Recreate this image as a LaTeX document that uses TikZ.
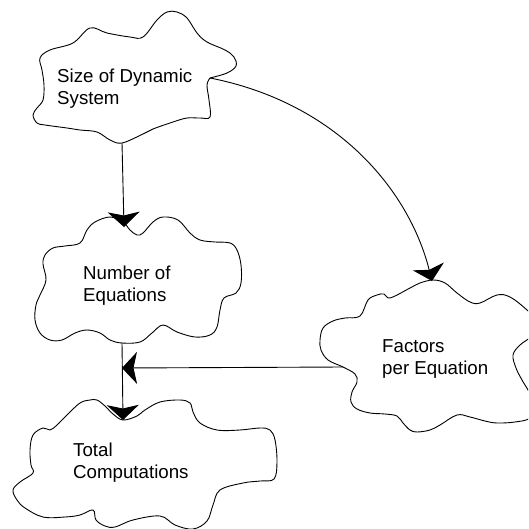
\documentclass[tikz,border=0pt]{standalone}
\usepackage{fontspec}
\setmainfont{Liberation Sans}
\usetikzlibrary{arrows.meta}
\begin{document}
\begin{tikzpicture}[x=1pt,y=-1pt,
  cloudline/.style={draw=black,line width=0.9pt,line join=round},
  link/.style={draw=black,line width=0.9pt,-{Stealth[length=15pt,width=32pt,inset=3.5pt]}},
  label/.style={anchor=base west,align=left,inner sep=0pt,font=\fontsize{18.7}{22}\selectfont}]
\clip (0,0) rectangle (528,529);
\useasboundingbox (0,0) rectangle (528,529);

% cloud: Size of Dynamic System
\path[cloudline] plot[smooth,tension=0.6] coordinates {
  (210,78) (227,73) (236,66) (234,57) (225,50) (207,42) (197,33) (187,18)
  (177,12) (167,12) (157,20) (143,37) (130,37) (107,33) (90,28) (73,43)
  (50,50) (40,58) (42,70) (44,85) (43,100) (37,108) (33,115) (37,123)
  (45,125) (67,128) (80,130) (97,132) (110,140) (122,143) (143,134)
  (153,129) (173,122) (187,118) (200,118) (210,117) (209,100) (207,85) (210,78)};

% cloud: Number of Equations
\path[cloudline] plot[smooth cycle,tension=0.6] coordinates {
  (110,217) (95,222) (87,230) (80,243) (65,246) (53,248) (45,255) (43,264)
  (46,280) (40,295) (36,305) (35,320) (40,333) (50,340) (62,340) (75,333)
  (87,330) (100,333) (110,340) (122,343) (140,342) (152,333) (163,325)
  (177,332) (195,337) (210,335) (217,327) (220,310) (224,298) (236,293)
  (241,283) (241,265) (237,250) (230,243) (215,242) (200,240) (190,233)
  (178,220) (163,217) (153,222) (143,233) (137,235) (130,230) (123,222)};

% cloud: Total Computations
\path[cloudline] plot[smooth cycle,tension=0.6] coordinates {
  (90,400) (80,403) (67,415) (57,425) (50,430) (43,428) (33,435) (30,450)
  (31,465) (33,473) (20,482) (13,490) (17,500) (25,508) (43,517) (65,517)
  (80,515) (93,510) (96,520) (105,526) (115,527) (133,520) (160,516)
  (175,525) (193,529) (207,521) (213,505) (220,490) (243,483) (260,481)
  (274,479) (277,462) (275,440) (270,430) (260,428) (240,430) (217,430)
  (200,423) (193,412) (190,403) (180,400) (160,402) (145,410) (137,416)
  (123,420) (113,414) (105,406) (97,400)};

% cloud: Factors per Equation (runs past the right edge)
\path[cloudline] plot[smooth cycle,tension=0.6] coordinates {
  (433,280) (420,283) (410,288) (395,296) (388,298) (384,294) (377,295)
  (368,300) (360,316) (345,318) (333,321) (323,328) (320,340) (321,350)
  (328,360) (343,367) (355,374) (357,382) (352,392) (351,402) (357,409)
  (370,413) (385,414) (397,416) (403,423) (410,430) (417,432) (430,430)
  (440,425) (457,415) (470,417) (485,421) (497,423) (515,422) (530,418)
  (536,405) (528,390) (522,380) (516,368) (513,355) (520,345) (532,336)
  (540,324) (527,310) (510,297) (497,295) (480,303) (470,302) (457,293)
  (445,283)};

% labels (anchored on the baseline of the last line)
\node[label] (size) at (57,105) {Size of Dynamic\\System};
\node[label] (number) at (83,301) {Number of\\Equations};
\node[label] (total) at (73,478) {Total\\Computations};
\node[label] (factors) at (382,374) {Factors\\per Equation};

% connector ends on the outlines
\coordinate (sizeBottom) at (122,143);
\coordinate (sizeRight) at (210,78);
\coordinate (numberTop) at (124,227);
\coordinate (numberBottom) at (122,343);
\coordinate (totalTop) at (123,420);
\coordinate (factorsTop) at (432,281);
\coordinate (factorsLeft) at (343,367);
\coordinate (junction) at (122,368);

% connectors
\draw[link] (sizeBottom) -- (numberTop);
\draw[link] (numberBottom) -- (totalTop);
\draw[link] (factorsLeft) -- (junction);
\draw[link] (sizeRight) .. controls (337,103) and (409,190) .. (factorsTop);
\end{tikzpicture}
\end{document}
